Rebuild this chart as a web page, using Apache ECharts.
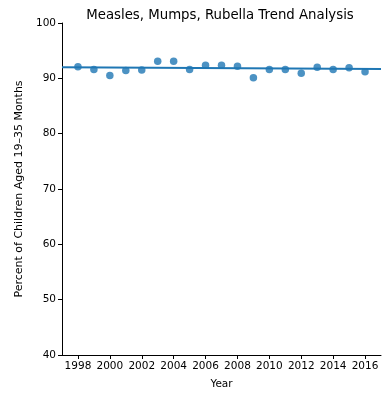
<!DOCTYPE html>
<html><head><meta charset="utf-8">
<script src="https://cdn.jsdelivr.net/npm/echarts@6/dist/echarts.min.js"></script>
<style>html,body{margin:0;padding:0;background:#fff}#c{width:384px;height:393px}</style>
</head><body><div id="c"></div>
<script>
var years = [1998,1999,2000,2001,2002,2003,2004,2005,2006,2007,2008,2009,2010,2011,2012,2013,2014,2015,2016];
var percents = [92.1,91.6,90.5,91.4,91.5,93.1,93.1,91.6,92.35,92.35,92.2,90.1,91.6,91.6,90.9,92.0,91.6,91.9,91.2];
var trendYears = [1997, 2017];
var trendValues = [92.0, 91.7];
var bandYears = [1997, 2002, 2007, 2012, 2017];
var bandLow = [91.45, 91.65, 91.7, 91.55, 91.25];
var bandHigh = [92.6, 92.2, 92.0, 91.9, 92.1];
var xTicks = [1998,2000,2002,2004,2006,2008,2010,2012,2014,2016];

var font = 'DejaVu Sans';
var chart = echarts.init(document.getElementById('c'), null, {renderer:'canvas'});
chart.setOption({
  animation:false,
  textStyle:{fontFamily:font},
  title:{text:'Measles, Mumps, Rubella Trend Analysis', left:215, top:4, textAlign:'center',
    textStyle:{fontFamily:font, fontSize:13.3, fontWeight:'normal', color:'#000'}},
  grid:{left:62, right:3, top:23, bottom:38, containLabel:false, outerBoundsMode:'none'},
  xAxis:{type:'value', min:1997, max:2017, name:'Year', nameLocation:'middle', nameGap:24,
    nameTextStyle:{fontFamily:font, fontSize:10.5, color:'#000'},
    axisLine:{lineStyle:{color:'#000', width:1}},
    axisTick:{show:true, length:4, inside:false, customValues:xTicks, lineStyle:{color:'#000'}},
    axisLabel:{customValues:xTicks, formatter:function(v){return String(v);}, fontFamily:font, fontSize:10.5, color:'#000', margin:6},
    splitLine:{show:false}},
  yAxis:{type:'value', min:40, max:100, interval:10, name:'Percent of Children Aged 19\u201335 Months',
    nameLocation:'middle', nameGap:33, nameRotate:90,
    nameTextStyle:{fontFamily:font, fontSize:11, color:'#000'},
    axisLine:{show:true, lineStyle:{color:'#000', width:1}},
    axisTick:{show:true, length:4, lineStyle:{color:'#000'}},
    axisLabel:{fontFamily:font, fontSize:10.5, color:'#000', margin:6},
    splitLine:{show:false}},
  series:[
    {type:'line', data:bandYears.map(function(x,i){return [x,bandLow[i]];}), stack:'band', symbol:'none',
      lineStyle:{width:0, opacity:0}, smooth:true, silent:true},
    {type:'line', data:bandYears.map(function(x,i){return [x,bandHigh[i]-bandLow[i]];}), stack:'band', symbol:'none',
      lineStyle:{width:0, opacity:0}, areaStyle:{color:'#1f77b4', opacity:0.22}, smooth:true, silent:true},
    {type:'line', data:trendYears.map(function(x,i){return [x,trendValues[i]];}), symbol:'none',
      lineStyle:{color:'#1f77b4', width:2}},
    {type:'scatter', data:years.map(function(x,i){return [x,percents[i]];}), symbolSize:7.5,
      itemStyle:{color:'#1f77b4', opacity:0.8}}
  ]
});
</script></body></html>
